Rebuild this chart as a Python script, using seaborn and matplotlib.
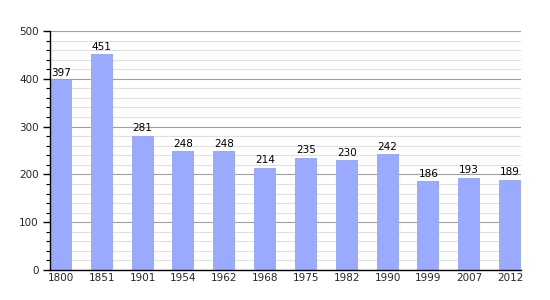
import matplotlib
matplotlib.use("Agg")
import matplotlib.pyplot as plt
import seaborn as sns
import pandas as pd
from matplotlib.ticker import MultipleLocator

years = ["1800", "1851", "1901", "1954", "1962", "1968", "1975", "1982", "1990", "1999", "2007", "2012"]
population = [397, 451, 281, 248, 248, 214, 235, 230, 242, 186, 193, 189]

df = pd.DataFrame({"year": years, "pop": population})

sns.set_theme(style="white")
plt.rcParams['font.family'] = ['DejaVu Sans']

fig = plt.figure(figsize=(5.5, 3.0), dpi=100)
ax = fig.add_axes([50/550, 30/300, 471/550, 239/300])

sns.barplot(data=df, x="year", y="pop", color="#99aaff", saturation=1, width=0.54,
            edgecolor="none", linewidth=0, ax=ax, zorder=3)

ax.set_ylim(0, 500)
ax.set_xlim(-0.27, 11.27)
ax.yaxis.set_major_locator(MultipleLocator(100))
ax.yaxis.set_minor_locator(MultipleLocator(20))
ax.grid(True, which="major", axis="y", color="#a0a0a0", linewidth=0.8, zorder=0)
ax.grid(True, which="minor", axis="y", color="#e0e0e0", linewidth=0.8, zorder=0)
ax.set_axisbelow(True)

for s in ["top", "right"]:
    ax.spines[s].set_visible(False)
for s in ["left", "bottom"]:
    ax.spines[s].set_color("black")
    ax.spines[s].set_linewidth(1.0)
    ax.spines[s].set_zorder(5)

ax.tick_params(axis="y", which="major", length=5, width=1, color="black", labelsize=7.5, left=True, pad=3)
ax.tick_params(axis="y", which="minor", length=3, width=0.8, color="black", left=True)
ax.tick_params(axis="x", length=0, labelsize=7.5, pad=2)
ax.set_xlabel("")
ax.set_ylabel("")

for i, v in enumerate(population):
    ax.text(i, v + 5, str(v), ha="center", va="bottom", fontsize=7.5, color="black", zorder=6)

fig.savefig("out.png", dpi=100)
